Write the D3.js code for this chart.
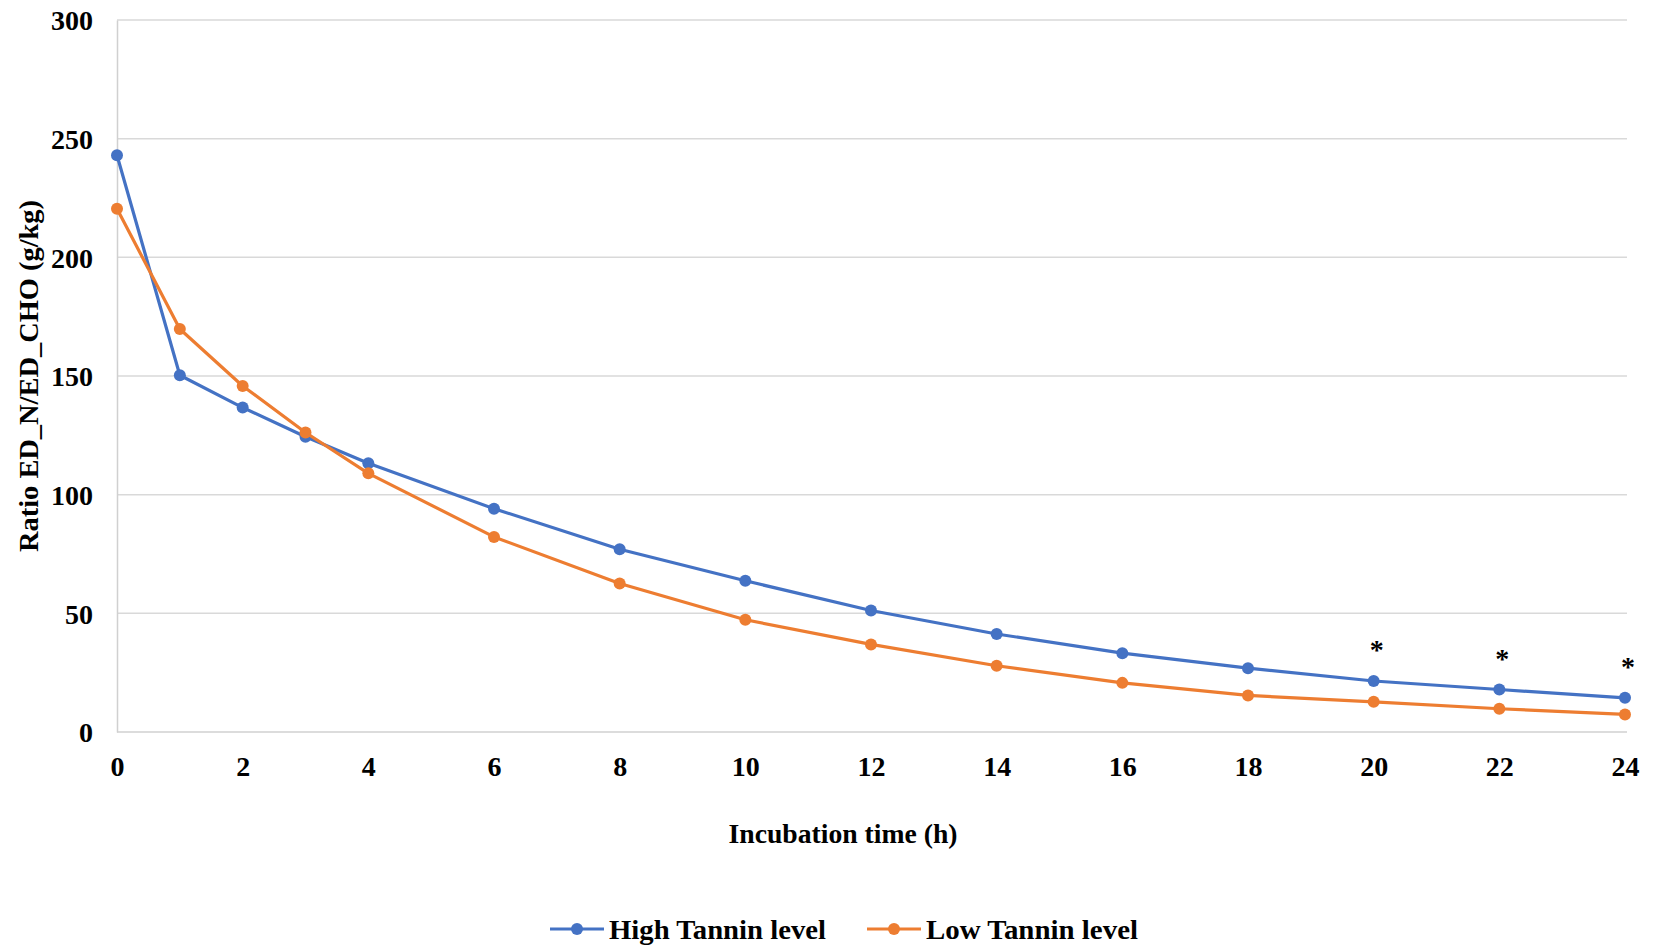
<!DOCTYPE html>
<html>
<head>
<meta charset="utf-8">
<script src="https://cdn.jsdelivr.net/npm/d3@7"></script>
<style>
  body { margin: 0; background: #fff; }
  text { font-family: "Liberation Serif", "Times New Roman", serif; font-weight: bold; fill: #000; }
</style>
</head>
<body>
<div id="chart"></div>
<script>
// data
const hours = [0, 1, 2, 3, 4, 6, 8, 10, 12, 14, 16, 18, 20, 22, 24];
const highTannin = [243, 150.3, 136.7, 124.4, 113.2, 94.1, 77.0, 63.7, 51.2, 41.3, 33.2, 26.9, 21.5, 17.9, 14.4];
const lowTannin = [220.5, 169.8, 145.8, 126.2, 109.0, 82.2, 62.6, 47.3, 36.9, 27.9, 20.7, 15.4, 12.7, 9.8, 7.4];
const xTicks = [0, 2, 4, 6, 8, 10, 12, 14, 16, 18, 20, 22, 24];
const yTicks = [0, 50, 100, 150, 200, 250, 300];
const starHours = [20, 22, 24];
const seriesNames = ["High Tannin level", "Low Tannin level"];
const colors = ["#4472C4", "#ED7D31"];

const width = 1654, height = 945;

let svg = d3.select("#chart")
    .append("svg")
    .attr("width", width)
    .attr("height", height);

// scales
let x = d3.scaleLinear().domain([0, 24]).range([117, 1625]);
let y = d3.scaleLinear().domain([0, 300]).range([732, 20]);

// gridlines
svg.append("g")
    .selectAll("line")
    .data(yTicks.filter(d => d > 0))
    .enter()
    .append("line")
    .attr("x1", 117)
    .attr("x2", 1627)
    .attr("y1", d => y(d))
    .attr("y2", d => y(d))
    .attr("stroke", "#d9d9d9")
    .attr("stroke-width", 1.5);

// y axis
let yAxis = svg.append("g")
    .attr("transform", `translate(${x(0)}, 0)`)
    .call(d3.axisLeft(y).tickValues(yTicks).tickSize(0).tickPadding(24));
yAxis.select(".domain").attr("stroke", "#d0d0d0").attr("stroke-width", 1.5);
yAxis.selectAll("text")
    .style("font-size", "28px")
    .style("font-family", "Liberation Serif")
    .attr("dy", "0.35em");

// x axis
let xAxis = svg.append("g")
    .attr("transform", `translate(0, ${y(0)})`)
    .call(d3.axisBottom(x).tickValues(xTicks).tickSize(0).tickPadding(24));
xAxis.select(".domain").attr("stroke", "#d0d0d0").attr("stroke-width", 1.5)
    .attr("d", `M117,0H1627`);
xAxis.selectAll("text")
    .style("font-size", "28px")
    .style("font-family", "Liberation Serif")
    .attr("dy", "0.71em");

// axis titles
svg.append("text")
    .attr("x", 843)
    .attr("y", 843)
    .style("text-anchor", "middle")
    .style("font-size", "27px")
    .attr("textLength", 229)
    .attr("lengthAdjust", "spacingAndGlyphs")
    .text("Incubation  time (h)");

svg.append("text")
    .attr("transform", `translate(38, 376) rotate(-90)`)
    .style("text-anchor", "middle")
    .style("font-size", "27px")
    .attr("textLength", 352)
    .attr("lengthAdjust", "spacingAndGlyphs")
    .text("Ratio ED_N/ED_CHO  (g/kg)");

// lines and markers
let series = [highTannin, lowTannin];
let line = d3.line()
    .x((d, i) => x(hours[i]))
    .y(d => y(d));

series.forEach((vals, s) => {
    svg.append("path")
        .datum(vals)
        .attr("fill", "none")
        .attr("stroke", colors[s])
        .attr("stroke-width", 3.2)
        .attr("stroke-linejoin", "round")
        .attr("d", line);

    svg.append("g")
        .selectAll("circle")
        .data(vals)
        .enter()
        .append("circle")
        .attr("cx", (d, i) => x(hours[i]))
        .attr("cy", d => y(d))
        .attr("r", 6)
        .attr("fill", colors[s]);
});

// significance asterisks above the high tannin points
svg.append("g")
    .selectAll("text")
    .data(starHours)
    .enter()
    .append("text")
    .attr("x", d => x(d) + 3)
    .attr("y", d => y(highTannin[hours.indexOf(d)]) - 22)
    .style("text-anchor", "middle")
    .style("font-size", "28px")
    .text("*");

// legend
let legendX = [550, 867];
let legendTextW = [217, 212];
let legend = svg.append("g")
    .selectAll("g")
    .data(seriesNames)
    .enter()
    .append("g")
    .attr("transform", (d, i) => `translate(${legendX[i]}, 929)`);

legend.append("line")
    .attr("x1", 0)
    .attr("x2", 54)
    .attr("stroke", (d, i) => colors[i])
    .attr("stroke-width", 3.2);

legend.append("circle")
    .attr("cx", 27)
    .attr("r", 6)
    .attr("fill", (d, i) => colors[i]);

legend.append("text")
    .attr("x", 59)
    .attr("y", 10)
    .style("font-size", "28px")
    .attr("textLength", (d, i) => legendTextW[i])
    .attr("lengthAdjust", "spacingAndGlyphs")
    .text(d => d);
</script>
</body>
</html>
